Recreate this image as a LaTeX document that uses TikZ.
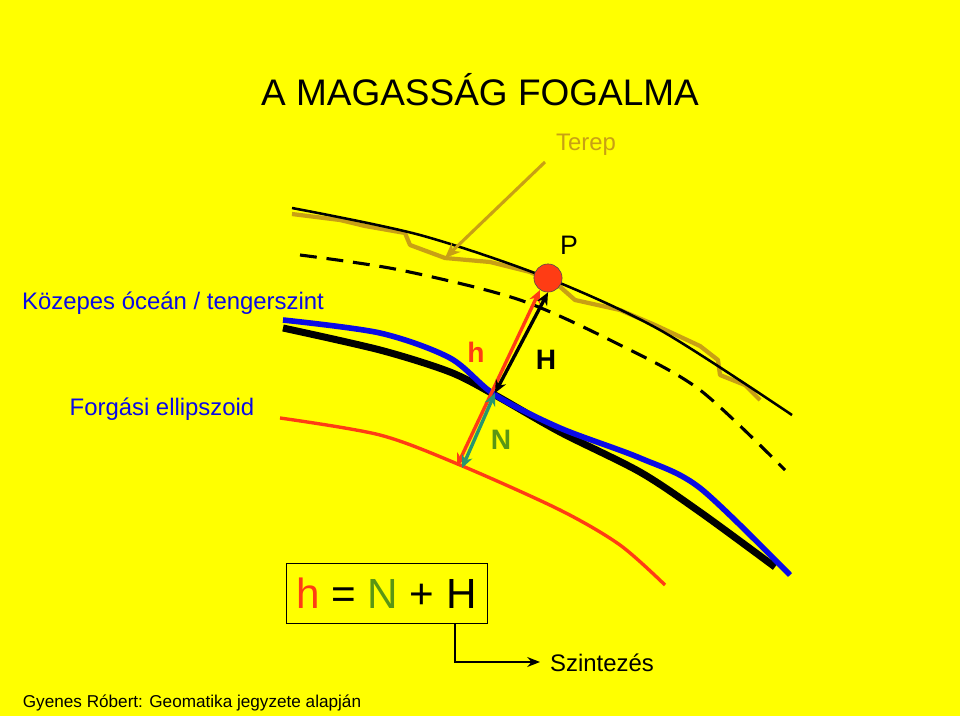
\documentclass[tikz,border=0pt]{standalone}
\usepackage{fontspec}
\setmainfont{Liberation Sans}
\usetikzlibrary{arrows.meta}
\definecolor{bg}{RGB}{255,255,0}
\definecolor{terep}{RGB}{200,160,20}
\definecolor{oce}{RGB}{10,10,230}
\definecolor{ell}{RGB}{255,60,20}
\definecolor{ngreen}{RGB}{90,150,20}
\definecolor{nteal}{RGB}{40,150,110}
\begin{document}
\begin{tikzpicture}[x=0.025cm,y=-0.025cm]
\tikzset{
  lbl/.style={font=\fontsize{17}{20}\selectfont},
  dbl/.style={{Stealth[length=9pt,width=8pt]}-{Stealth[length=9pt,width=8pt]}, line width=2.4pt},
  betu/.style={font=\bfseries\fontsize{20}{22}\selectfont},
}
\fill[bg] (0,0) rectangle (960,716);
\useasboundingbox (0,0) rectangle (960,716);

%feliratok
\node[font=\fontsize{26.3}{30}\selectfont] (title) at (480,90) {A MAGASSÁG FOGALMA};
\node[lbl, text=terep] (terep) at (586,145) {Terep};
\node[lbl, text=oce] (ocean) at (173,303) {Közepes óceán / tengerszint};
\node[lbl, text=oce] (ellips) at (162,409) {Forgási ellipszoid};
\node[font=\fontsize{12.2}{14}\selectfont] (forras) at (192,703) {Gyenes Róbert: Geomatika jegyzete alapján};
\node[lbl] (szint) at (602,663) {Szintezés};
\node[font=\fontsize{19}{21}\selectfont] (plbl) at (569,245) {P};

%feluletek
\draw[terep, line width=3pt, line join=round] (292,214) -- (340,220) -- (365,226) -- (405,233) -- (410,245) -- (445,258) -- (490,262) -- (530,272) -- (558,285) -- (575,300) -- (620,310) -- (655,325) -- (700,346) -- (718,360) -- (720,375) -- (745,385) -- (760,400);
\draw[line width=1.8pt] plot[smooth, tension=0.5] coordinates {(292,208) (420,235) (545,277) (660,330) (792,415)};
\draw[line width=2.2pt, dash pattern=on 12pt off 7pt] plot[smooth, tension=0.5] coordinates {(300,255) (400,270) (520,300) (620,345) (700,390) (785,470)};
\draw[line width=5pt] plot[smooth, tension=0.5] coordinates {(283,328) (380,350) (450,372) (495,395) (560,432) (640,472) (700,512) (775,567)};
\draw[oce, line width=4pt] plot[smooth, tension=0.5] coordinates {(283,320) (380,333) (450,358) (495,395) (560,428) (640,458) (700,488) (790,575)};
\draw[ell, line width=2.4pt] plot[smooth, tension=0.5] coordinates {(280,418) (380,435) (460,465) (560,510) (620,545) (665,585)};

%pont es magassagok
\node[circle, fill=ell, draw=black!70, inner sep=0pt, minimum size=20pt] (P) at (548,278) {};
\coordinate (hbot) at (457,466);
\coordinate (htop) at (540,290);
\coordinate (geo) at (495,393);
\coordinate (Nbot) at (462,468);
\draw[ell, dbl] (hbot) -- (htop);
\draw[dbl] (geo) -- (P.south);
\draw[nteal, dbl] (Nbot) -- (geo);
\node[betu, text=ell] (hl) at (476,352) {h};
\node[betu] (Hl) at (546,360) {H};
\node[betu, text=ngreen] (Nl) at (501,440) {N};

%terep nyil
\draw[terep, line width=2.2pt, -{Stealth[length=11pt,width=9pt]}] (545,162) -- (445,258);

%keplet
\node[draw, line width=0.6pt, minimum width=201*0.025cm, minimum height=60*0.025cm, font=\fontsize{30}{33}\selectfont] (box) at (386.5,593) {\textcolor{ell}{h} = \textcolor{ngreen}{N} + H};
\coordinate (sz) at (540,662);
\draw[line width=1.2pt, -{Stealth[length=9pt,width=7pt]}] (455,623) |- (sz);
\end{tikzpicture}
\end{document}
